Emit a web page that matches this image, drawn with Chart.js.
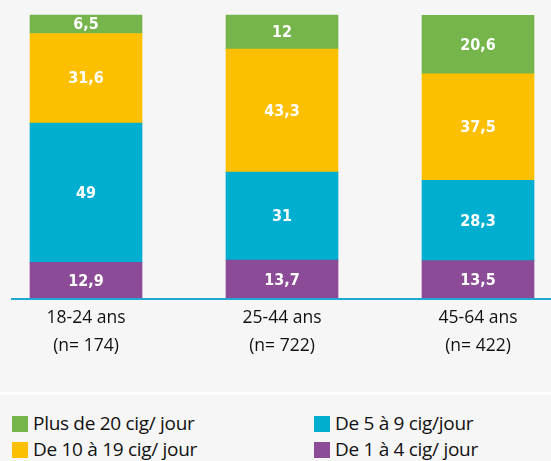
<!DOCTYPE html>
<html>
<head>
<meta charset="utf-8">
<script src="https://cdn.jsdelivr.net/npm/chart.js@4/dist/chart.umd.min.js"></script>
<style>
  body { margin: 0; background: #f6f6f6; font-family: 'Open Sans', sans-serif; }
  #wrap { width: 551px; height: 392px; position: relative; }
  #sep { height: 3px; background: #ffffff; }
  #legend { display: grid; grid-template-columns: 302px 249px; padding: 18px 0 0 12px; row-gap: 5px; }
  .item { display: flex; align-items: center; font-size: 19px; color: #111; line-height: 21px; letter-spacing: -0.3px; }
  .box { width: 16px; height: 16px; margin-right: 5px; flex: none; }
</style>
</head>
<body>
<div id="wrap"><canvas id="chart" width="551" height="392"></canvas></div>
<div id="sep"></div>
<div id="legend"></div>
<script>
const categories = [['18-24 ans', '(n= 174)'], ['25-44 ans', '(n= 722)'], ['45-64 ans', '(n= 422)']];
const de1a4 = [12.9, 13.7, 13.5];
const de5a9 = [49, 31, 28.3];
const de10a19 = [31.6, 43.3, 37.5];
const plus20 = [6.5, 12, 20.6];

const datasets = [
  { label: 'De 1 à 4 cig/ jour', data: de1a4, backgroundColor: '#8c4b96' },
  { label: 'De 5 à 9 cig/jour', data: de5a9, backgroundColor: '#00aed0' },
  { label: 'De 10 à 19 cig/ jour', data: de10a19, backgroundColor: '#fcc000' },
  { label: 'Plus de 20 cig/ jour', data: plus20, backgroundColor: '#76b54b' },
];
datasets.forEach(ds => {
  ds.barThickness = 112;
  ds.clip = false;
});

const valueLabels = {
  id: 'valueLabels',
  afterDatasetsDraw(chart) {
    const ctx = chart.ctx;
    ctx.save();
    ctx.fillStyle = '#ffffff';
    ctx.font = 'bold 16px "DejaVu Sans Condensed"';
    ctx.textAlign = 'center';
    ctx.textBaseline = 'middle';
    chart.data.datasets.forEach((ds, i) => {
      chart.getDatasetMeta(i).data.forEach((bar, j) => {
        const text = String(ds.data[j]).replace('.', ',');
        ctx.fillText(text, bar.x, (bar.y + bar.base) / 2 + 1);
      });
    });
    // baseline across the full width
    const y0 = chart.scales.y.getPixelForValue(0);
    ctx.strokeStyle = '#1fa8d3';
    ctx.lineWidth = 2;
    ctx.beginPath();
    ctx.moveTo(11, y0);
    ctx.lineTo(chart.width, y0);
    ctx.stroke();
    ctx.restore();
  }
};

new Chart(document.getElementById('chart'), {
  type: 'bar',
  data: { labels: categories, datasets: datasets },
  options: {
    responsive: false,
    animation: false,
    layout: { padding: { left: 86, right: 73, top: 15 } },
    plugins: { legend: { display: false }, tooltip: { enabled: false } },
    scales: {
      x: {
        stacked: true,
        offset: false,
        grid: { display: false, drawTicks: false },
        border: { display: false },
        ticks: {
          padding: 5,
          color: '#111',
          font: { family: 'Open Sans', size: 17.5, lineHeight: 1.6 }
        },
        afterFit(scale) { scale.height = 93; }
      },
      y: {
        stacked: true,
        display: false,
        min: 0,
        max: 100
      }
    }
  },
  plugins: [valueLabels]
});

const legendOrder = [3, 1, 2, 0];
const legend = document.getElementById('legend');
legendOrder.forEach(i => {
  const item = document.createElement('div');
  item.className = 'item';
  item.innerHTML = '<span class="box" style="background:' + datasets[i].backgroundColor + '"></span>' + datasets[i].label;
  legend.appendChild(item);
});
</script>
</body>
</html>
